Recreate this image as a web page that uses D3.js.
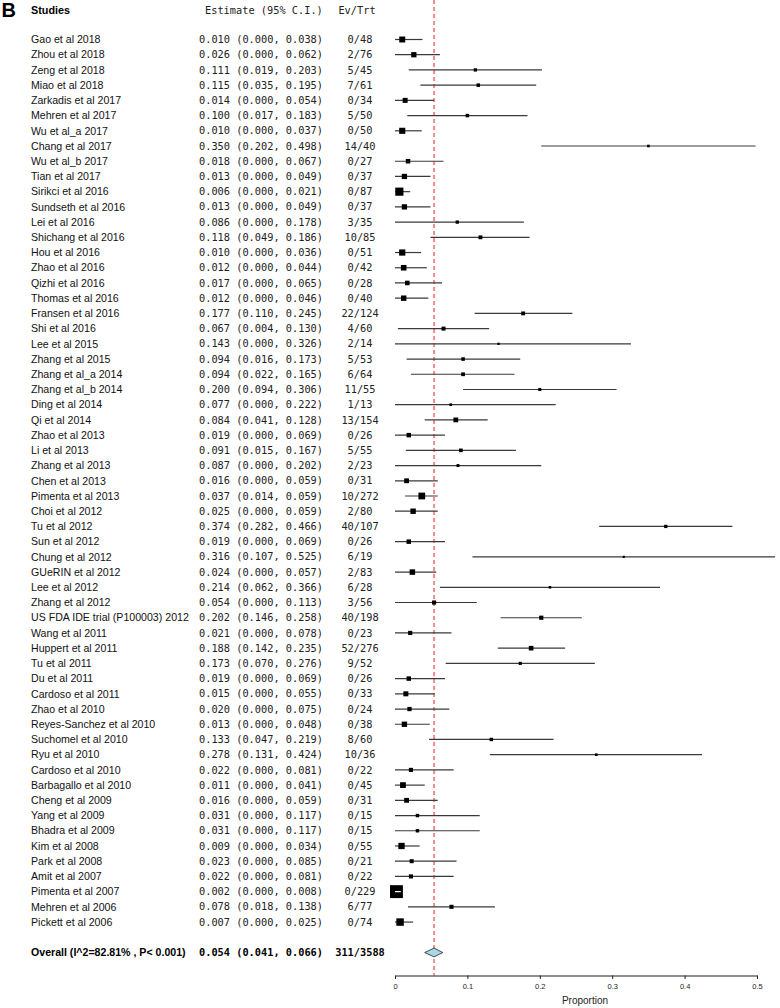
<!DOCTYPE html>
<html>
<head>
<meta charset="utf-8">
<script src="https://cdn.jsdelivr.net/npm/d3@7"></script>
<style>
  body { margin: 0; background: #fff; }
  svg { display: block; }
</style>
</head>
<body>
<svg id="chart"></svg>
<script>
const W = 780, H = 1008;

// study data
const studies = [
  "Gao et al 2018", "Zhou et al 2018", "Zeng et al 2018", "Miao et al 2018", "Zarkadis et al 2017",
  "Mehren et al 2017", "Wu et al_a 2017", "Chang et al 2017", "Wu et al_b 2017", "Tian et al 2017",
  "Sirikci et al 2016", "Sundseth et al 2016", "Lei et al 2016", "Shichang et al 2016", "Hou et al 2016",
  "Zhao et al 2016", "Qizhi et al 2016", "Thomas et al 2016", "Fransen et al 2016", "Shi et al 2016",
  "Lee et al 2015", "Zhang et al 2015", "Zhang et al_a 2014", "Zhang et al_b 2014", "Ding et al 2014",
  "Qi et al 2014", "Zhao et al 2013", "Li et al 2013", "Zhang et al 2013", "Chen et al 2013",
  "Pimenta et al 2013", "Choi et al 2012", "Tu et al 2012", "Sun et al 2012", "Chung et al 2012",
  "GUeRIN et al 2012", "Lee et al 2012", "Zhang et al 2012", "US FDA IDE trial (P100003) 2012", "Wang et al 2011",
  "Huppert et al 2011", "Tu et al 2011", "Du et al 2011", "Cardoso et al 2011", "Zhao et al 2010",
  "Reyes-Sanchez et al 2010", "Suchomel et al 2010", "Ryu et al 2010", "Cardoso et al 2010", "Barbagallo et al 2010",
  "Cheng et al 2009", "Yang et al 2009", "Bhadra et al 2009", "Kim et al 2008", "Park et al 2008",
  "Amit et al 2007", "Pimenta et al 2007", "Mehren et al 2006", "Pickett et al 2006"
];
const estimate = [
  0.010, 0.026, 0.111, 0.115, 0.014, 0.100, 0.010, 0.350, 0.018, 0.013,
  0.006, 0.013, 0.086, 0.118, 0.010, 0.012, 0.017, 0.012, 0.177, 0.067,
  0.143, 0.094, 0.094, 0.200, 0.077, 0.084, 0.019, 0.091, 0.087, 0.016,
  0.037, 0.025, 0.374, 0.019, 0.316, 0.024, 0.214, 0.054, 0.202, 0.021,
  0.188, 0.173, 0.019, 0.015, 0.020, 0.013, 0.133, 0.278, 0.022, 0.011,
  0.016, 0.031, 0.031, 0.009, 0.023, 0.022, 0.002, 0.078, 0.007
];
const lower = [
  0.000, 0.000, 0.019, 0.035, 0.000, 0.017, 0.000, 0.202, 0.000, 0.000,
  0.000, 0.000, 0.000, 0.049, 0.000, 0.000, 0.000, 0.000, 0.110, 0.004,
  0.000, 0.016, 0.022, 0.094, 0.000, 0.041, 0.000, 0.015, 0.000, 0.000,
  0.014, 0.000, 0.282, 0.000, 0.107, 0.000, 0.062, 0.000, 0.146, 0.000,
  0.142, 0.070, 0.000, 0.000, 0.000, 0.000, 0.047, 0.131, 0.000, 0.000,
  0.000, 0.000, 0.000, 0.000, 0.000, 0.000, 0.000, 0.018, 0.000
];
const upper = [
  0.038, 0.062, 0.203, 0.195, 0.054, 0.183, 0.037, 0.498, 0.067, 0.049,
  0.021, 0.049, 0.178, 0.186, 0.036, 0.044, 0.065, 0.046, 0.245, 0.130,
  0.326, 0.173, 0.165, 0.306, 0.222, 0.128, 0.069, 0.167, 0.202, 0.059,
  0.059, 0.059, 0.466, 0.069, 0.525, 0.057, 0.366, 0.113, 0.258, 0.078,
  0.235, 0.276, 0.069, 0.055, 0.075, 0.048, 0.219, 0.424, 0.081, 0.041,
  0.059, 0.117, 0.117, 0.034, 0.085, 0.081, 0.008, 0.138, 0.025
];
const events = [
  0, 2, 5, 7, 0, 5, 0, 14, 0, 0,
  0, 0, 3, 10, 0, 0, 0, 0, 22, 4,
  2, 5, 6, 11, 1, 13, 0, 5, 2, 0,
  10, 2, 40, 0, 6, 2, 6, 3, 40, 0,
  52, 9, 0, 0, 0, 0, 8, 10, 0, 0,
  0, 0, 0, 0, 0, 0, 0, 6, 0
];
const totals = [
  48, 76, 45, 61, 34, 50, 50, 40, 27, 37,
  87, 37, 35, 85, 51, 42, 28, 40, 124, 60,
  14, 53, 64, 55, 13, 154, 26, 55, 23, 31,
  272, 80, 107, 26, 19, 83, 28, 56, 198, 23,
  276, 52, 26, 33, 24, 38, 60, 36, 22, 45,
  31, 15, 15, 55, 21, 22, 229, 77, 74
];
const overall = {label: "Overall (I^2=82.81% , P< 0.001)", est: 0.054, lo: 0.041, hi: 0.066, ev: 311, n: 3588};
const xTicks = [0, 0.1, 0.2, 0.3, 0.4, 0.5];

const rows = studies.map((s, i) => ({
  name: s, est: estimate[i], lo: lower[i], hi: upper[i], ev: events[i], n: totals[i],
  prec: 1.96 / (upper[i] - estimate[i])
}));

const f3 = d3.format(".3f");
const ciText = d => `${f3(d.est)} (${f3(d.lo)}, ${f3(d.hi)})`;

const x = d3.scaleLinear().domain([0, 0.5]).range([395, 757]);
const y = d3.scaleLinear().domain([0, 60]).range([39.5, 952.5]);
const box = d3.scaleSqrt().domain([0, d3.max(rows, d => d.prec)]).range([0, 12.9]);

const SANS = "'Liberation Sans', Arial, sans-serif";
const MONO = "'DejaVu Sans Mono', monospace";

const svg = d3.select("#chart").attr("width", W).attr("height", H);
svg.append("rect").attr("width", W).attr("height", H).attr("fill", "#fff");

// panel letter and headers
svg.append("text").attr("x", 1.5).attr("y", 17)
  .style("font", `bold 20px ${SANS}`).text("B");
svg.append("text").attr("x", 31).attr("y", 10).attr("dy", "0.35em")
  .style("font", `bold 10.8px ${SANS}`).text("Studies");
svg.append("text").attr("x", 205).attr("y", 10).attr("dy", "0.35em")
  .style("font", `10.3px ${MONO}`).attr("fill", "#222").text("Estimate (95% C.I.)");
svg.append("text").attr("x", 357).attr("y", 10).attr("dy", "0.35em").attr("text-anchor", "middle")
  .style("font", `10.3px ${MONO}`).attr("fill", "#222").text("Ev/Trt");

// reference line at pooled estimate
svg.append("line")
  .attr("x1", x(overall.est)).attr("x2", x(overall.est))
  .attr("y1", 0).attr("y2", 975.5)
  .attr("stroke", "#f28a8a").attr("stroke-width", 2).attr("stroke-dasharray", "4,3");

const row = svg.append("g").selectAll("g")
  .data(rows)
  .join("g")
  .attr("transform", (d, i) => `translate(0,${y(i)})`);

row.append("text").attr("x", 31).attr("dy", "0.35em")
  .style("font", `10.6px ${SANS}`).attr("fill", "#111").text(d => d.name);
row.append("text").attr("x", 199).attr("dy", "0.35em")
  .style("font", `10.3px ${MONO}`).attr("fill", "#222").text(ciText);
row.append("text").attr("x", 360).attr("dy", "0.35em").attr("text-anchor", "middle")
  .style("font", `10.3px ${MONO}`).attr("fill", "#222").text(d => `${d.ev}/${d.n}`);

row.append("line")
  .attr("x1", d => x(d.lo)).attr("x2", d => x(d.hi))
  .attr("stroke", "#3a3a3a").attr("stroke-width", 1.2);
row.append("rect")
  .attr("x", d => x(d.est) - box(d.prec) / 2)
  .attr("y", d => -box(d.prec) / 2)
  .attr("width", d => box(d.prec))
  .attr("height", d => box(d.prec))
  .attr("fill", "#000");
// CI hidden inside the box is drawn in white
row.filter(d => x(d.hi) - x(d.est) < box(d.prec) / 2 && x(d.est) - x(d.lo) < box(d.prec) / 2)
  .append("line")
  .attr("x1", d => x(d.lo)).attr("x2", d => x(d.hi))
  .attr("stroke", "#fff").attr("stroke-width", 1.2);

// overall row
const oy = y(60);
svg.append("text").attr("x", 31).attr("y", oy).attr("dy", "0.35em")
  .style("font", `bold 10.6px ${SANS}`).text(overall.label);
svg.append("text").attr("x", 199).attr("y", oy).attr("dy", "0.35em")
  .style("font", `bold 10.3px ${MONO}`).text(ciText(overall));
svg.append("text").attr("x", 360).attr("y", oy).attr("dy", "0.35em").attr("text-anchor", "middle")
  .style("font", `bold 10.3px ${MONO}`).text(`${overall.ev}/${overall.n}`);
const dh = 4.4;
svg.append("path")
  .attr("d", `M${x(overall.lo)},${oy}L${x(overall.est)},${oy - dh}L${x(overall.hi)},${oy}L${x(overall.est)},${oy + dh}Z`)
  .attr("fill", "#a8d8e8").attr("stroke", "#222").attr("stroke-width", 0.8);

// x axis
const axis = svg.append("g")
  .attr("transform", "translate(0,975.5)")
  .call(d3.axisBottom(x).tickValues(xTicks).tickSize(3.5).tickPadding(5).tickFormat(d3.format("")));
axis.select(".domain").attr("stroke", "#222");
axis.selectAll(".tick line").attr("stroke", "#222");
axis.selectAll(".tick text").style("font", `7.5px ${SANS}`).attr("fill", "#222");

svg.append("text").attr("x", 585).attr("y", 1000).attr("dy", "0.35em").attr("text-anchor", "middle")
  .style("font", `10px ${SANS}`).attr("fill", "#222").text("Proportion");
</script>
</body>
</html>
